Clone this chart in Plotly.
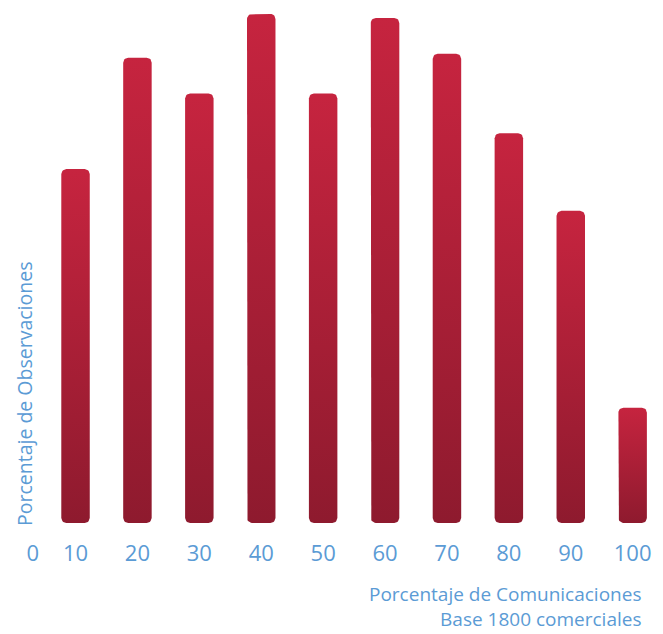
import numpy as np
import plotly.graph_objects as go

# ---- data ----
categories = [10, 20, 30, 40, 50, 60, 70, 80, 90, 100]
values = [8.9, 11.7, 10.8, 12.8, 10.8, 12.7, 11.8, 9.8, 7.85, 2.9]   # % of observations (estimated)
tick_labels = ["0", "10", "20", "30", "40", "50", "60", "70", "80", "90", "100"]
x_title = "Porcentaje de Comunicaciones<br>Base 1800 comerciales"
y_title = "Porcentaje de Observaciones"

# ---- layout constants ----
W, H = 663, 634
M_L, M_R, M_T, M_B = 0, 0, 10, 111
X_RANGE = [-2.2, 104.9]
Y_RANGE = [0, 12.9]
BAR_W = 4.6          # bar width in axis units
RADIUS_PX = 5
TOP_COLOR = "#c6243f"
BOTTOM_COLOR = "#8e1a2e"
TEXT_COLOR = "#5b9bd5"
FONT = "Open Sans"

plot_w = W - M_L - M_R
plot_h = H - M_T - M_B
sx = plot_w / (X_RANGE[1] - X_RANGE[0])
sy = plot_h / (Y_RANGE[1] - Y_RANGE[0])
rx = RADIUS_PX / sx
ry = RADIUS_PX / sy


def rounded_bar(xc, h):
    x0, x1 = xc - BAR_W / 2, xc + BAR_W / 2
    t = np.linspace(0, np.pi / 2, 8)
    pts_x, pts_y = [], []
    # bottom-right
    pts_x += list(x1 - rx + rx * np.sin(t)); pts_y += list(ry - ry * np.cos(t))
    # top-right
    pts_x += list(x1 - rx + rx * np.cos(t)); pts_y += list(h - ry + ry * np.sin(t))
    # top-left
    pts_x += list(x0 + rx - rx * np.sin(t)); pts_y += list(h - ry + ry * np.cos(t))
    # bottom-left
    pts_x += list(x0 + rx - rx * np.cos(t)); pts_y += list(ry - ry * np.sin(t))
    pts_x.append(pts_x[0]); pts_y.append(pts_y[0])
    return pts_x, pts_y


fig = go.Figure()
for c, v in zip(categories, values):
    px_, py_ = rounded_bar(c, v)
    fig.add_trace(go.Scatter(
        x=px_, y=py_, mode="lines", fill="toself",
        line=dict(width=0, color=BOTTOM_COLOR),
        fillgradient=dict(type="vertical",
                          colorscale=[[0, BOTTOM_COLOR], [1, TOP_COLOR]]),
        hoverinfo="skip", showlegend=False,
    ))

fig.update_layout(
    width=W, height=H,
    margin=dict(l=M_L, r=M_R, t=M_T, b=M_B),
    plot_bgcolor="white", paper_bgcolor="white",
    font=dict(family=FONT, color=TEXT_COLOR),
    xaxis=dict(range=X_RANGE, tickmode="array",
               tickvals=[3.1] + categories, ticktext=tick_labels,
               showgrid=False, zeroline=False, showline=False,
               ticks="outside", ticklen=11, tickcolor="rgba(0,0,0,0)",
               tickfont=dict(size=22, color=TEXT_COLOR, family=FONT),
               fixedrange=True),
    yaxis=dict(range=Y_RANGE, visible=False, fixedrange=True),
    annotations=[
        dict(text=y_title, textangle=-90, xref="paper", yref="paper",
             x=24 / W, y=0, xanchor="center", yanchor="bottom", yshift=-5,
             showarrow=False, font=dict(size=19.5, color=TEXT_COLOR, family=FONT)),
        dict(text=x_title, xref="paper", yref="paper", align="right",
             x=642 / W, y=-(580 - M_T - plot_h) / plot_h,
             xanchor="right", yanchor="top", showarrow=False, borderpad=0,
             font=dict(size=19, color=TEXT_COLOR, family=FONT)),
    ],
)

fig.write_html("out.html")
